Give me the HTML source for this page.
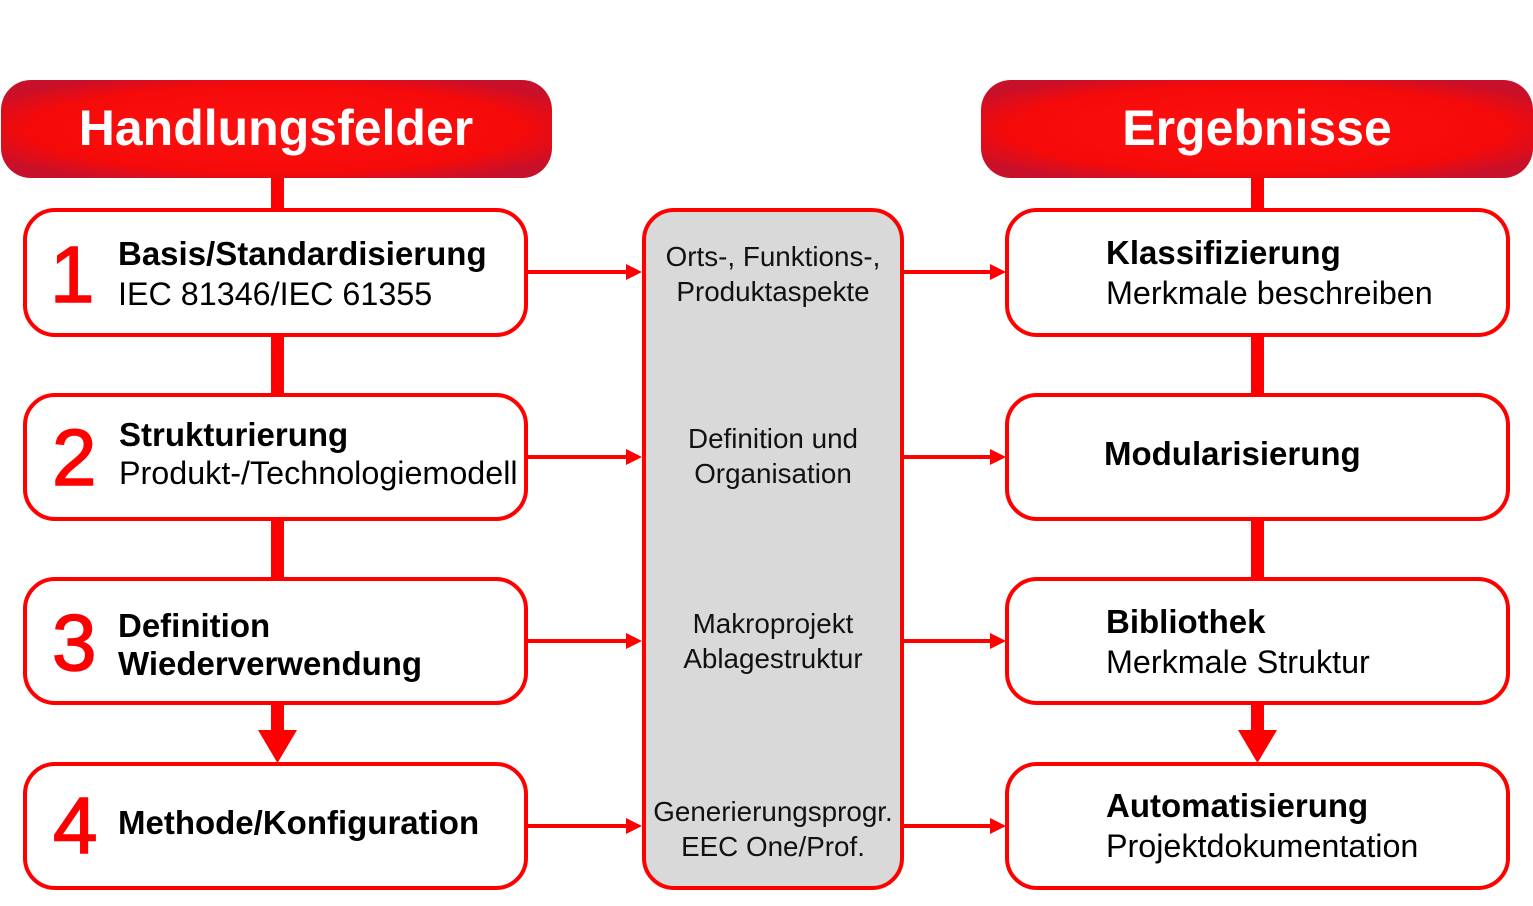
<!DOCTYPE html>
<html><head><meta charset="utf-8"><style>
html,body{margin:0;padding:0;background:#fff}
svg{display:block}
text{font-family:"Liberation Sans",sans-serif}
.b{font-weight:bold;font-size:33px;fill:#000}
.n{font-size:32.3px;fill:#000}
.m{font-size:27.8px;fill:#111;text-anchor:middle}
.num{font-size:80px;fill:#ff0000;stroke:#ff0000;stroke-width:1.5}
</style></head><body>
<svg width="1533" height="906" viewBox="0 0 1533 906">
<defs>
<radialGradient id="g" cx="50%" cy="50%" r="60%">
<stop offset="0" stop-color="#ff1010"/><stop offset="0.75" stop-color="#f50a0a"/><stop offset="1" stop-color="#c8102a"/>
</radialGradient>
</defs>
<g fill="#ff0000">
<rect x="271" y="176" width="13" height="36"/>
<rect x="271" y="334" width="13" height="62"/>
<rect x="271" y="518" width="13" height="62"/>
<rect x="271" y="702" width="13" height="30"/>
<polygon points="258,730 297,730 277.5,763"/>
<rect x="1251" y="176" width="13" height="36"/>
<rect x="1251" y="334" width="13" height="62"/>
<rect x="1251" y="518" width="13" height="62"/>
<rect x="1251" y="702" width="13" height="30"/>
<polygon points="1238,730 1277,730 1257.5,763"/>
</g>
<rect x="1" y="80" width="551" height="98" rx="30" fill="url(#g)"/>
<rect x="981" y="80" width="552" height="98" rx="30" fill="url(#g)"/>
<text x="276" y="145" text-anchor="middle" font-weight="bold" font-size="50" fill="#fff">Handlungsfelder</text>
<text x="1257" y="145" text-anchor="middle" font-weight="bold" font-size="50" fill="#fff">Ergebnisse</text>
<g stroke="#ff0000" stroke-width="4">
<line x1="527" y1="272" x2="628" y2="272"/><line x1="527" y1="457" x2="628" y2="457"/>
<line x1="527" y1="641" x2="628" y2="641"/><line x1="527" y1="826" x2="628" y2="826"/>
<line x1="903" y1="272" x2="992" y2="272"/><line x1="903" y1="457" x2="992" y2="457"/>
<line x1="903" y1="641" x2="992" y2="641"/><line x1="903" y1="826" x2="992" y2="826"/>
</g>
<g fill="#ff0000">
<polygon points="626,264 642,272 626,280"/><polygon points="626,449 642,457 626,465"/>
<polygon points="626,633 642,641 626,649"/><polygon points="626,818 642,826 626,834"/>
<polygon points="990,264 1006,272 990,280"/><polygon points="990,449 1006,457 990,465"/>
<polygon points="990,633 1006,641 990,649"/><polygon points="990,818 1006,826 990,834"/>
</g>
<g fill="#fff" stroke="#ff0000" stroke-width="4">
<rect x="25" y="210" width="501" height="125" rx="30"/>
<rect x="25" y="395" width="501" height="124" rx="30"/>
<rect x="25" y="579" width="501" height="124" rx="30"/>
<rect x="25" y="764" width="501" height="124" rx="30"/>
<rect x="1007" y="210" width="501" height="125" rx="30"/>
<rect x="1007" y="395" width="501" height="124" rx="30"/>
<rect x="1007" y="579" width="501" height="124" rx="30"/>
<rect x="1007" y="764" width="501" height="124" rx="30"/>
<rect x="644" y="210" width="258" height="678" rx="30" fill="#d9d9d9"/>
</g>
<text class="num" x="50" y="302">1</text>
<text class="b" x="118" y="265">Basis/Standardisierung</text>
<text class="n" x="118" y="305">IEC 81346/IEC 61355</text>
<text class="num" x="52" y="485">2</text>
<text class="b" x="119" y="446">Strukturierung</text>
<text class="n" x="119" y="484">Produkt-/Technologiemodell</text>
<text class="num" x="52" y="670">3</text>
<text class="b" x="118" y="637">Definition</text>
<text class="b" x="118" y="675">Wiederverwendung</text>
<text class="num" x="53" y="853">4</text>
<text class="b" x="118" y="834">Methode/Konfiguration</text>
<text class="m" x="773" y="266">Orts-, Funktions-,</text>
<text class="m" x="773" y="301">Produktaspekte</text>
<text class="m" x="773" y="448">Definition und</text>
<text class="m" x="773" y="483">Organisation</text>
<text class="m" x="773" y="633">Makroprojekt</text>
<text class="m" x="773" y="668">Ablagestruktur</text>
<text class="m" x="773" y="821">Generierungsprogr.</text>
<text class="m" x="773" y="856">EEC One/Prof.</text>
<text class="b" x="1106" y="264">Klassifizierung</text>
<text class="n" x="1106" y="304">Merkmale beschreiben</text>
<text class="b" x="1104" y="465">Modularisierung</text>
<text class="b" x="1106" y="633">Bibliothek</text>
<text class="n" x="1106" y="673">Merkmale Struktur</text>
<text class="b" x="1106" y="817">Automatisierung</text>
<text class="n" x="1106" y="857">Projektdokumentation</text>
</svg>
</body></html>
